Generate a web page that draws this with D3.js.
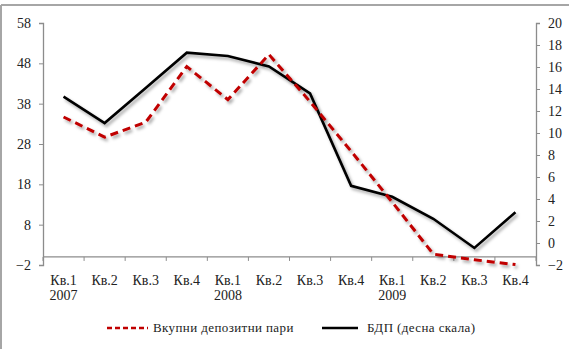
<!DOCTYPE html>
<html><head><meta charset="utf-8">
<script src="https://cdn.jsdelivr.net/npm/d3@7"></script>
<style>body{margin:0;background:#fff}svg{display:block} text{font-family:"Liberation Serif","Times New Roman",serif !important;}</style>
</head><body>
<script>
const quarters = ["Кв.1","Кв.2","Кв.3","Кв.4","Кв.1","Кв.2","Кв.3","Кв.4","Кв.1","Кв.2","Кв.3","Кв.4"];
const years = ["2007","","","","2008","","","","2009","","",""];
const deposits = [34.7, 29.7, 33.4, 47.2, 39.0, 50.2, 38.5, 26.2, 13.6, 0.7, -0.7, -1.9];
const gdp = [13.3, 10.9, 14.1, 17.3, 17.0, 16.05, 13.6, 5.2, 4.2, 2.2, -0.45, 2.8];
const leftTicks = [-2, 8, 18, 28, 38, 48, 58];
const rightTicks = [-2, 0, 2, 4, 6, 8, 10, 12, 14, 16, 18, 20];
const seriesNames = ["Вкупни депозитни пари", "БДП (десна скала)"];

const W = 569, H = 349;
const FONT = "'Liberation Serif','Times New Roman',serif";
const svg = d3.select("body").append("svg").attr("width", W).attr("height", H)
  .attr("font-family", FONT);

const defs = svg.append("defs");
const f = defs.append("filter").attr("id","sh").attr("x","-10%").attr("y","-10%").attr("width","130%").attr("height","130%");
f.append("feDropShadow").attr("dx",2).attr("dy",2.5).attr("stdDeviation",1.6).attr("flood-color","#000").attr("flood-opacity",0.35);

// outer border (top and left visible)
svg.append("line").attr("x1",1).attr("x2",W).attr("y1",5).attr("y2",5).attr("stroke","#a6a6a6").attr("stroke-width",2);
svg.append("line").attr("x1",1).attr("x2",1).attr("y1",5).attr("y2",H).attr("stroke","#a6a6a6").attr("stroke-width",2);

const x0 = 43, x1 = 536;
const x = d3.scaleBand().domain(d3.range(quarters.length)).range([x0, x1]);
const yL = d3.scaleLinear().domain([-2, 58]).range([265, 23]);
const yR = d3.scaleLinear().domain([-2, 20]).range([265, 23]);
const axisColor = "#8c8c8c";

const gL = svg.append("g").attr("transform", `translate(${x0},0)`)
  .call(d3.axisLeft(yL).tickValues(leftTicks).tickSize(4).tickPadding(8).tickFormat(d3.format("d")));
const gR = svg.append("g").attr("transform", `translate(${x1},0)`)
  .call(d3.axisRight(yR).tickValues(rightTicks).tickSize(4).tickPadding(8).tickFormat(d3.format("d")));
[gL, gR].forEach(g => {
  g.attr("font-family", FONT).attr("font-size", 14);
  g.select(".domain").attr("stroke", axisColor).attr("stroke-width", 1.3);
  g.selectAll(".tick line").attr("stroke", axisColor);
  g.selectAll(".tick text").attr("fill", "#222");
});

const y0 = yL(0);
svg.append("line").attr("x1", x0).attr("x2", x1).attr("y1", y0).attr("y2", y0).attr("stroke", axisColor).attr("stroke-width",1.3);
const bounds = d3.range(quarters.length + 1).map(i => x0 + i * x.step());
svg.selectAll(".xt").data(bounds).enter().append("line")
  .attr("x1", d => d).attr("x2", d => d).attr("y1", y0).attr("y2", y0 + 4).attr("stroke", axisColor);
svg.selectAll(".xl").data(quarters).enter().append("text")
  .attr("x", (d, i) => x(i) + x.bandwidth() / 2).attr("y", 285)
  .attr("text-anchor", "middle").attr("fill", "#222").attr("font-size", 14).text(d => d);
svg.selectAll(".yl").data(years).enter().append("text")
  .attr("x", (d, i) => x(i) + x.bandwidth() / 2).attr("y", 300)
  .attr("text-anchor", "middle").attr("fill", "#222").attr("font-size", 14).text(d => d);

const cx = i => x(i) + x.bandwidth() / 2;
const lineL = d3.line().x((d, i) => cx(i)).y(d => yL(d));
const lineR = d3.line().x((d, i) => cx(i)).y(d => yR(d));

svg.append("path").datum(gdp).attr("d", lineR).attr("fill", "none")
  .attr("stroke", "#000").attr("stroke-width", 2.6).attr("stroke-linejoin","miter").attr("filter","url(#sh)");
svg.append("path").datum(deposits).attr("d", lineL).attr("fill", "none")
  .attr("stroke", "#c00000").attr("stroke-width", 3).attr("stroke-dasharray", "8,5").attr("filter","url(#sh)");

const ly = 328;
svg.append("line").attr("x1",107).attr("x2",148).attr("y1",ly).attr("y2",ly)
  .attr("stroke","#c00000").attr("stroke-width",2.5).attr("stroke-dasharray","5,3");
svg.append("text").attr("x",153).attr("y",ly+4).attr("fill","#222").attr("font-size",13).attr("letter-spacing",0.4).text(seriesNames[0]);
svg.append("line").attr("x1",322).attr("x2",358).attr("y1",ly).attr("y2",ly)
  .attr("stroke","#000").attr("stroke-width",2.5);
svg.append("text").attr("x",367).attr("y",ly+4).attr("fill","#222").attr("font-size",13).attr("letter-spacing",0.4).text(seriesNames[1]);
</script>
</body></html>
